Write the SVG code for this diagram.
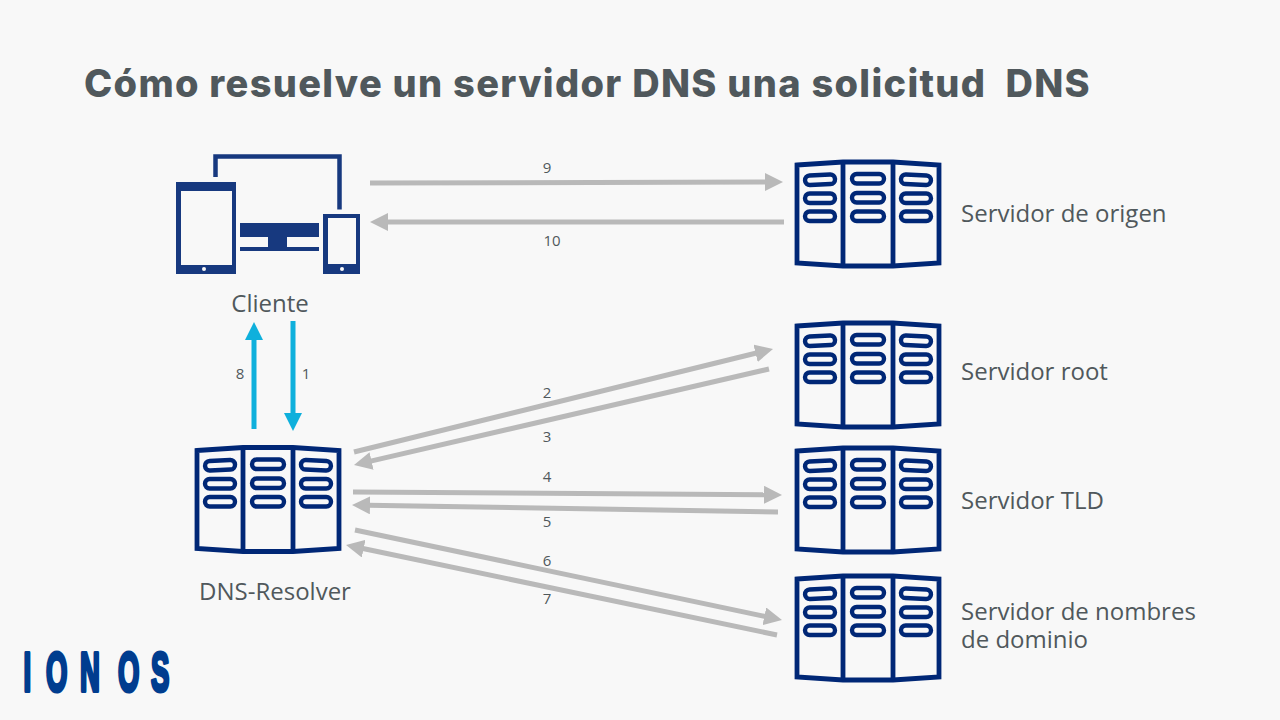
<svg xmlns="http://www.w3.org/2000/svg" width="1280" height="720" viewBox="0 0 1280 720">
<style>
.lbl{font-family:"Open Sans","Noto Sans",sans-serif;font-size:24px;fill:#50585c}
.num{font-family:"Open Sans","Noto Sans",sans-serif;font-size:15px;fill:#50585c;text-anchor:middle}
.title{font-family:"Inter","Open Sans",sans-serif;font-weight:800;font-size:38px;letter-spacing:1.3px;fill:#50585c;white-space:pre}
.gray{fill:none;stroke:#b9b9b9;stroke-width:5;marker-end:url(#hg)}
.cyan{fill:none;stroke:#0fb0dc;stroke-width:5;marker-end:url(#hc)}
.body{fill:none;stroke:#002776;stroke-width:4.800}
.slot{fill:none;stroke:#002776;stroke-width:4.400}
.ic{fill:#17397f}
.sc{fill:#f8f8f8}
</style>
<defs>
<marker id="hg" markerUnits="userSpaceOnUse" viewBox="0 -9 18 18" refX="2" refY="0" markerWidth="18" markerHeight="18" orient="auto"><path d="M0,-9L18,0L0,9Z" fill="#b9b9b9"/></marker>
<marker id="hc" markerUnits="userSpaceOnUse" viewBox="0 -9 18 18" refX="2" refY="0" markerWidth="18" markerHeight="18" orient="auto"><path d="M0,-9L18,0L0,9Z" fill="#0fb0dc"/></marker>
<symbol id="srv" overflow="visible" width="146" height="108" viewBox="0 0 146 108">
<path class="body" d="M2,5L48,2H98L144,5V103L98,106H48L2,103Z"/>
<path class="body" d="M48,2V106M98,2V106"/>
<rect class="slot" x="10" y="15" width="30" height="9.500" rx="4.700" transform="rotate(-3 25 19)"/>
<rect class="slot" x="10" y="33.500" width="30" height="9.500" rx="4.700"/>
<rect class="slot" x="10" y="51.500" width="30" height="9.500" rx="4.700"/>
<rect class="slot" x="57" y="14" width="32" height="9.500" rx="4.700"/>
<rect class="slot" x="57" y="33" width="32" height="9.500" rx="4.700"/>
<rect class="slot" x="57" y="51.500" width="32" height="9.500" rx="4.700"/>
<rect class="slot" x="106" y="15" width="30" height="9.500" rx="4.700" transform="rotate(3 121 19)"/>
<rect class="slot" x="106" y="33.500" width="30" height="9.500" rx="4.700"/>
<rect class="slot" x="106" y="51.500" width="30" height="9.500" rx="4.700"/>
</symbol>
</defs>
<rect width="1280" height="720" fill="#f8f8f8"/>
<text class="title" x="84" y="97">Cómo resuelve un servidor DNS una solicitud  DNS</text>
<g id="connectors">
<path class="gray" d="M370,183L767,182"/>
<path class="gray" d="M784,222L386,222"/>
<path class="gray" d="M354,452L757.500,352.800"/>
<path class="gray" d="M769,369L369.600,461.400"/>
<path class="gray" d="M353,492L766,494.800"/>
<path class="gray" d="M778,512L368,505.300"/>
<path class="gray" d="M355,530L766.300,616.700"/>
<path class="gray" d="M777,635L361.700,548.300"/>
<path class="cyan" d="M254,429V338"/>
<path class="cyan" d="M293,321V415"/>
</g>
<g id="edge-labels">
<text class="num" x="547" y="173">9</text>
<text class="num" x="552" y="246">10</text>
<text class="num" x="240" y="379">8</text>
<text class="num" x="306" y="379">1</text>
<text class="num" x="547" y="398">2</text>
<text class="num" x="547" y="442">3</text>
<text class="num" x="547" y="482">4</text>
<text class="num" x="547" y="527">5</text>
<text class="num" x="547" y="566">6</text>
<text class="num" x="547" y="604">7</text>
</g>
<g id="client">
<rect class="ic" x="176" y="182" width="60" height="92"/>
<rect class="sc" x="181" y="191" width="51" height="74"/>
<circle class="sc" cx="204" cy="269" r="2"/>
<rect class="ic" x="323" y="214" width="37" height="60"/>
<rect class="sc" x="328" y="218" width="28" height="46"/>
<circle class="sc" cx="342" cy="269" r="2"/>
<path class="ic" d="M240,223H319V237H287V247H319V251H240V247H268V237H240Z"/>
<path fill="none" stroke="#17397f" stroke-width="4.500" d="M215.500,177V156.500H339.500V209.500"/>
<text class="lbl" x="270" y="312" text-anchor="middle">Cliente</text>
</g>
<g id="origin"><use href="#srv" x="795" y="160"/><text class="lbl" x="961" y="222">Servidor de origen</text></g>
<g id="root"><use href="#srv" x="795" y="321"/><text class="lbl" x="961" y="380">Servidor root</text></g>
<g id="tld"><use href="#srv" x="795" y="446"/><text class="lbl" x="961" y="509">Servidor TLD</text></g>
<g id="domain"><use href="#srv" x="795" y="574"/><text class="lbl" x="961" y="620">Servidor de nombres</text><text class="lbl" x="961" y="648">de dominio</text></g>
<g id="resolver"><use href="#srv" x="195" y="445.500"/><text class="lbl" x="275" y="600" text-anchor="middle">DNS-Resolver</text></g>
<g id="logo"><text transform="translate(24,690.500) scale(.5,1)" font-family="Liberation Sans, sans-serif" font-weight="700" font-size="55" fill="#003d8f" stroke="#003d8f" stroke-width="4" stroke-linejoin="round" x="-1 44 112 188 254">IONOS</text></g>
</svg>
